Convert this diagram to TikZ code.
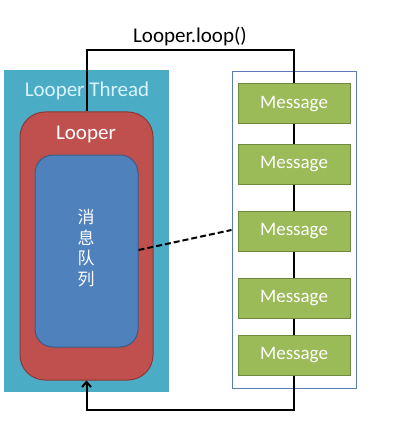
\documentclass[tikz,border=0pt]{standalone}
\usepackage{fontspec}
\setmainfont{Carlito}
\newfontfamily\cjk{Noto Sans CJK SC}
\usetikzlibrary{arrows.meta}
\definecolor{threadblue}{HTML}{4BACC6}
\definecolor{looperred}{HTML}{C0504D}
\definecolor{looperedge}{HTML}{8C3836}
\definecolor{queueblue}{HTML}{4F81BD}
\definecolor{queueedge}{HTML}{385D8A}
\definecolor{msggreen}{HTML}{9BBB59}
\definecolor{msgedge}{HTML}{71893F}
\definecolor{boxedge}{HTML}{5B7DB1}
\begin{document}
\begin{tikzpicture}[x=1pt,y=-1pt]
				\tikzstyle{msg node}=[rectangle,draw=msgedge,fill=msggreen,line width=1pt,minimum width=112pt,minimum height=40pt,text=white,font=\fontsize{19}{22}\selectfont]
				\tikzstyle{link}=[line width=2pt,black]
				\useasboundingbox (0,0) rectangle (409,422);
				\node(thread)[rectangle,fill=threadblue,minimum width=165pt,minimum height=322pt] at (86.5,231){};
				\node(looper)[rectangle,rounded corners=25pt,draw=looperedge,fill=looperred,line width=1pt,minimum width=133pt,minimum height=268pt] at (86.5,246){};
				\node(queue)[rectangle,rounded corners=18pt,draw=queueedge,fill=queueblue,line width=1pt,minimum width=103pt,minimum height=192pt] at (86.5,251){};
				\node(threadlabel)[text=cyan!15,font=\fontsize{21}{24}\selectfont] at (87,91){Looper Thread};
				\node(looperlabel)[text=white,font=\fontsize{21}{24}\selectfont] at (86,134){Looper};
				\node(queuelabel)[text=white,align=center,font=\cjk\fontsize{17}{20.5}\selectfont] at (86,248){消\\息\\队\\列};
				\node(msgbox)[rectangle,draw=boxedge,line width=1pt,minimum width=124pt,minimum height=316pt] at (294,230){};
				\node(m1)[msg node] at (294,104){Message};
				\node(m2)[msg node] at (294,164){Message};
				\node(m3)[msg node] at (294,231){Message};
				\node(m4)[msg node] at (294,298){Message};
				\node(m5)[msg node] at (294,355){Message};
				\draw[link](m1)--(m2);
				\draw[link](m2)--(m3);
				\draw[link](m3)--(m4);
				\draw[link](m4)--(m5);
				\coordinate(looptop) at (190,50);
				\coordinate(loopbottom) at (190,410);
				\draw[link](looper.north)|-(looptop)-|(m1.north);
				\node(looplabel)[above=1pt,font=\fontsize{21}{24}\selectfont] at (looptop){Looper.loop()};
				\draw[link,-{Straight Barb[length=5pt,width=9pt]}](m5.south)|-(loopbottom)-|(looper.south);
				\draw[line width=2pt,dashed,dash pattern=on 6pt off 3pt](queue.east|-0,250)--(msgbox.west|-0,230);
			\end{tikzpicture}
\end{document}
